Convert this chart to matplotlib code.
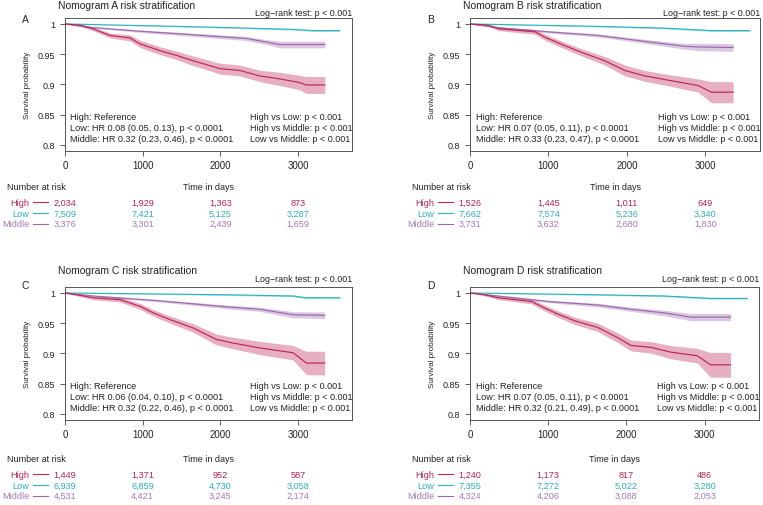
import matplotlib
matplotlib.use("Agg")
import matplotlib.pyplot as plt
from matplotlib.transforms import blended_transform_factory

plt.rcParams['font.family'] = ['Liberation Sans', 'DejaVu Sans']

W, H = 763, 506

# ---------------- data ----------------
panels = ['A', 'B', 'C', 'D']
groups = ['High', 'Low', 'Middle']
risk_times = [0, 1000, 2000, 3000]
x_ticks = [0, 1000, 2000, 3000]
y_ticks = [0.8, 0.85, 0.9, 0.95, 1.0]
y_tick_labels = ['0.8', '0.85', '0.9', '0.95', '1']

# Panel A
A_high_t = [0, 190, 360, 580, 835, 965, 1220, 1435, 1650, 1865, 1995, 2250, 2505, 2765, 3020, 3105, 3345]
A_high_s = [1.000, 0.998, 0.992, 0.981, 0.977, 0.967, 0.956, 0.948, 0.939, 0.931, 0.926, 0.923, 0.914, 0.909, 0.903, 0.899, 0.899]
A_high_w = [0, 0.002, 0.003, 0.004, 0.005, 0.006, 0.0065, 0.007, 0.008, 0.0085, 0.009, 0.009, 0.0095, 0.011, 0.012, 0.014, 0.014]
A_mid_t = [0, 365, 965, 1435, 1995, 2335, 2595, 2765, 3345]
A_mid_s = [1.000, 0.994, 0.988, 0.984, 0.979, 0.976, 0.970, 0.966, 0.966]
A_mid_w = [0, 0.001, 0.002, 0.0025, 0.003, 0.0035, 0.004, 0.0055, 0.0055]
A_low_t = [0, 1220, 2075, 2935, 3190, 3535]
A_low_s = [1.000, 0.9967, 0.994, 0.991, 0.989, 0.989]
A_low_w = [0, 0.0007, 0.001, 0.0012, 0.0015, 0.0015]

# Panel B
B_high_t = [0, 233, 361, 827, 955, 1209, 1421, 1718, 1973, 2227, 2567, 2906, 3076, 3352]
B_high_s = [1.000, 0.998, 0.992, 0.987, 0.978, 0.964, 0.953, 0.939, 0.923, 0.914, 0.906, 0.898, 0.887, 0.887]
B_high_w = [0, 0.002, 0.003, 0.004, 0.005, 0.0055, 0.006, 0.007, 0.009, 0.009, 0.0095, 0.011, 0.0175, 0.0175]
B_mid_t = [0, 361, 997, 1633, 2058, 2482, 2737, 2906, 3352]
B_mid_s = [1.000, 0.994, 0.987, 0.981, 0.974, 0.967, 0.963, 0.962, 0.961]
B_mid_w = [0, 0.001, 0.002, 0.0025, 0.003, 0.004, 0.005, 0.006, 0.0065]
B_low_t = [0, 1633, 2482, 3076, 3564]
B_low_s = [1.000, 0.996, 0.993, 0.989, 0.989]
B_low_w = [0, 0.001, 0.0012, 0.0015, 0.0015]

# Panel C
C_high_t = [0, 193, 364, 707, 964, 1136, 1350, 1650, 1950, 2164, 2507, 2936, 3107, 3343]
C_high_s = [1.000, 0.996, 0.992, 0.989, 0.978, 0.967, 0.956, 0.942, 0.923, 0.917, 0.909, 0.901, 0.884, 0.884]
C_high_w = [0, 0.002, 0.003, 0.004, 0.005, 0.0055, 0.006, 0.007, 0.009, 0.0095, 0.011, 0.012, 0.0195, 0.0195]
C_mid_t = [0, 364, 1221, 2079, 2507, 2936, 3343]
C_mid_s = [1.000, 0.995, 0.987, 0.977, 0.973, 0.964, 0.963]
C_mid_w = [0, 0.001, 0.002, 0.003, 0.0035, 0.005, 0.0055]
C_low_t = [0, 2079, 2936, 3107, 3536]
C_low_s = [1.000, 0.997, 0.995, 0.992, 0.992]
C_low_w = [0, 0.001, 0.0012, 0.0015, 0.0015]

# Panel D
D_high_t = [0, 191, 361, 785, 955, 1124, 1336, 1633, 1888, 2058, 2312, 2567, 2906, 3076, 3331]
D_high_s = [1.000, 0.997, 0.992, 0.986, 0.975, 0.965, 0.954, 0.943, 0.926, 0.913, 0.910, 0.902, 0.896, 0.881, 0.881]
D_high_w = [0, 0.002, 0.003, 0.004, 0.005, 0.0055, 0.006, 0.007, 0.008, 0.009, 0.0095, 0.011, 0.012, 0.0205, 0.0205]
D_mid_t = [0, 361, 997, 1633, 2058, 2482, 2822, 3331]
D_mid_s = [1.000, 0.995, 0.986, 0.980, 0.973, 0.967, 0.960, 0.960]
D_mid_w = [0, 0.001, 0.002, 0.003, 0.0035, 0.0045, 0.006, 0.006]
D_low_t = [0, 1633, 2482, 3076, 3543]
D_low_s = [1.000, 0.997, 0.995, 0.991, 0.991]
D_low_w = [0, 0.001, 0.0012, 0.0015, 0.0015]

# Number at risk (High, Low, Middle) at 0, 1000, 2000, 3000 days
A_risk_high = [2034, 1929, 1363, 873]
A_risk_low = [7509, 7421, 5125, 3287]
A_risk_mid = [3376, 3301, 2439, 1659]
B_risk_high = [1526, 1445, 1011, 649]
B_risk_low = [7662, 7574, 5236, 3340]
B_risk_mid = [3731, 3632, 2680, 1830]
C_risk_high = [1449, 1371, 952, 587]
C_risk_low = [6939, 6859, 4730, 3058]
C_risk_mid = [4531, 4421, 3245, 2174]
D_risk_high = [1240, 1173, 817, 486]
D_risk_low = [7355, 7272, 5022, 3280]
D_risk_mid = [4324, 4206, 3088, 2053]

# Hazard ratio text
A_hr = ["High: Reference", "Low: HR 0.08 (0.05, 0.13), p < 0.0001", "Middle: HR 0.32 (0.23, 0.46), p < 0.0001"]
B_hr = ["High: Reference", "Low: HR 0.07 (0.05, 0.11), p < 0.0001", "Middle: HR 0.33 (0.23, 0.47), p < 0.0001"]
C_hr = ["High: Reference", "Low: HR 0.06 (0.04, 0.10), p < 0.0001", "Middle: HR 0.32 (0.22, 0.46), p < 0.0001"]
D_hr = ["High: Reference", "Low: HR 0.07 (0.05, 0.11), p < 0.0001", "Middle: HR 0.32 (0.21, 0.49), p < 0.0001"]
pair_text = ["High vs Low: p < 0.001", "High vs Middle: p < 0.001", "Low vs Middle: p < 0.001"]
logrank_text = "Log\u2212rank test: p < 0.001"

# ---------------- style ----------------
C_HIGH = '#BC2656'
C_LOW = '#2BB4BD'
C_MID = '#9C68AD'
T_HIGH = '#B3235A'
T_LOW = '#2AB0B8'
T_MID = '#A47AB4'
TXT = '#222222'

data = {
    'A': ((A_high_t, A_high_s, A_high_w), (A_low_t, A_low_s, A_low_w), (A_mid_t, A_mid_s, A_mid_w),
          (A_risk_high, A_risk_low, A_risk_mid), A_hr),
    'B': ((B_high_t, B_high_s, B_high_w), (B_low_t, B_low_s, B_low_w), (B_mid_t, B_mid_s, B_mid_w),
          (B_risk_high, B_risk_low, B_risk_mid), B_hr),
    'C': ((C_high_t, C_high_s, C_high_w), (C_low_t, C_low_s, C_low_w), (C_mid_t, C_mid_s, C_mid_w),
          (C_risk_high, C_risk_low, C_risk_mid), C_hr),
    'D': ((D_high_t, D_high_s, D_high_w), (D_low_t, D_low_s, D_low_w), (D_mid_t, D_mid_s, D_mid_w),
          (D_risk_high, D_risk_low, D_risk_mid), D_hr),
}

# axes rectangles in pixels: left, top, right, bottom
rects = {'A': (65, 19, 352, 152), 'B': (470, 19, 760, 152),
         'C': (65, 288, 352, 421), 'D': (470, 288, 759, 421)}
row_of = {'A': 0, 'B': 0, 'C': 1, 'D': 1}

fig = plt.figure(figsize=(W / 100, H / 100), dpi=100)


def fx(x):
    return x / W


def fy(y):
    return 1 - y / H


for p in panels:
    L, T, R, B = rects[p]
    ax = fig.add_axes([fx(L), fy(B), (R - L) / W, (B - T) / H])
    hi, lo, mi, risk, hr = data[p]
    for (t, s, w), col in ((lo, C_LOW), (mi, C_MID), (hi, C_HIGH)):
        lower = [a - b for a, b in zip(s, w)]
        upper = [a + b for a, b in zip(s, w)]
        ax.fill_between(t, lower, upper, color=col, alpha=0.36, linewidth=0)
    for (t, s, w), col in ((lo, C_LOW), (mi, C_MID), (hi, C_HIGH)):
        ax.plot(t, s, color=col, lw=0.85)
    ax.set_xlim(0, 3695)
    ax.set_ylim(0.7896, 1.0099)
    ax.set_xticks(x_ticks)
    ax.set_xticklabels([str(v) for v in x_ticks])
    ax.set_yticks(y_ticks)
    ax.set_yticklabels(y_tick_labels)
    ax.tick_params(axis='both', length=3.6, width=0.6, color='#444444',
                   labelsize=6.5, pad=3.2, labelcolor=TXT)
    ax.tick_params(axis='x', labelsize=6.9)
    for sp in ax.spines.values():
        sp.set_linewidth(0.7)
        sp.set_color('#555555')

    r = row_of[p]
    # titles
    fig.text(fx(L - 7), fy(T - (13.3 if r == 0 else 16.6)), f"Nomogram {p} risk stratification",
             ha='left', va='center', fontsize=7.5, color=TXT)
    fig.text(fx(R), fy(T - (5.7 if r == 0 else 9.0)), logrank_text,
             ha='right', va='center', fontsize=6.4, color=TXT)
    fig.text(fx(L - 39.5), fy(T + (1 if r == 0 else -2.3)), p,
             ha='center', va='center', fontsize=7.5, color=TXT)
    fig.text(fx(L - 37), fy((T + B) / 2), "Survival probability", rotation=90,
             ha='center', va='center', fontsize=5.8, color=TXT)

    # in-plot annotation
    for i, line in enumerate(hr):
        ax.text(5.5 / (R - L), (34 - 10.6 * i) / (B - T), line, transform=ax.transAxes,
                ha='left', va='center', fontsize=6.6, color=TXT)
    for i, line in enumerate(pair_text):
        ax.text(1 - 102 / (R - L), (34 - 10.6 * i) / (B - T), line, transform=ax.transAxes,
                ha='left', va='center', fontsize=6.5, color=TXT)

    # risk table
    hy = B + (35.3 if r == 0 else 38.3)
    fig.text(fx(L - 58), fy(hy), "Number at risk", ha='left', va='center', fontsize=6.5, color=TXT)
    fig.text(fx((L + R) / 2), fy(hy), "Time in days", ha='center', va='center', fontsize=6.5, color=TXT)
    bt = blended_transform_factory(ax.transData, fig.transFigure)
    for j, (g, vals, tc, lc) in enumerate(zip(groups, risk, (T_HIGH, T_LOW, T_MID), (C_HIGH, C_LOW, C_MID))):
        yy = hy + 16 + 10.75 * j
        fig.text(fx(L - 35.5), fy(yy), g, ha='right', va='center', fontsize=6.6, color=tc)
        fig.add_artist(plt.Line2D([fx(L - 32), fx(L - 17.5)], [fy(yy), fy(yy)],
                                  color=lc, lw=0.8, transform=fig.transFigure))
        for tt, v in zip(risk_times, vals):
            ax.text(tt, fy(yy), f"{v:,}", transform=bt, ha='center', va='center',
                    fontsize=6.6, color=tc, clip_on=False)

fig.savefig("out.png", dpi=100)
